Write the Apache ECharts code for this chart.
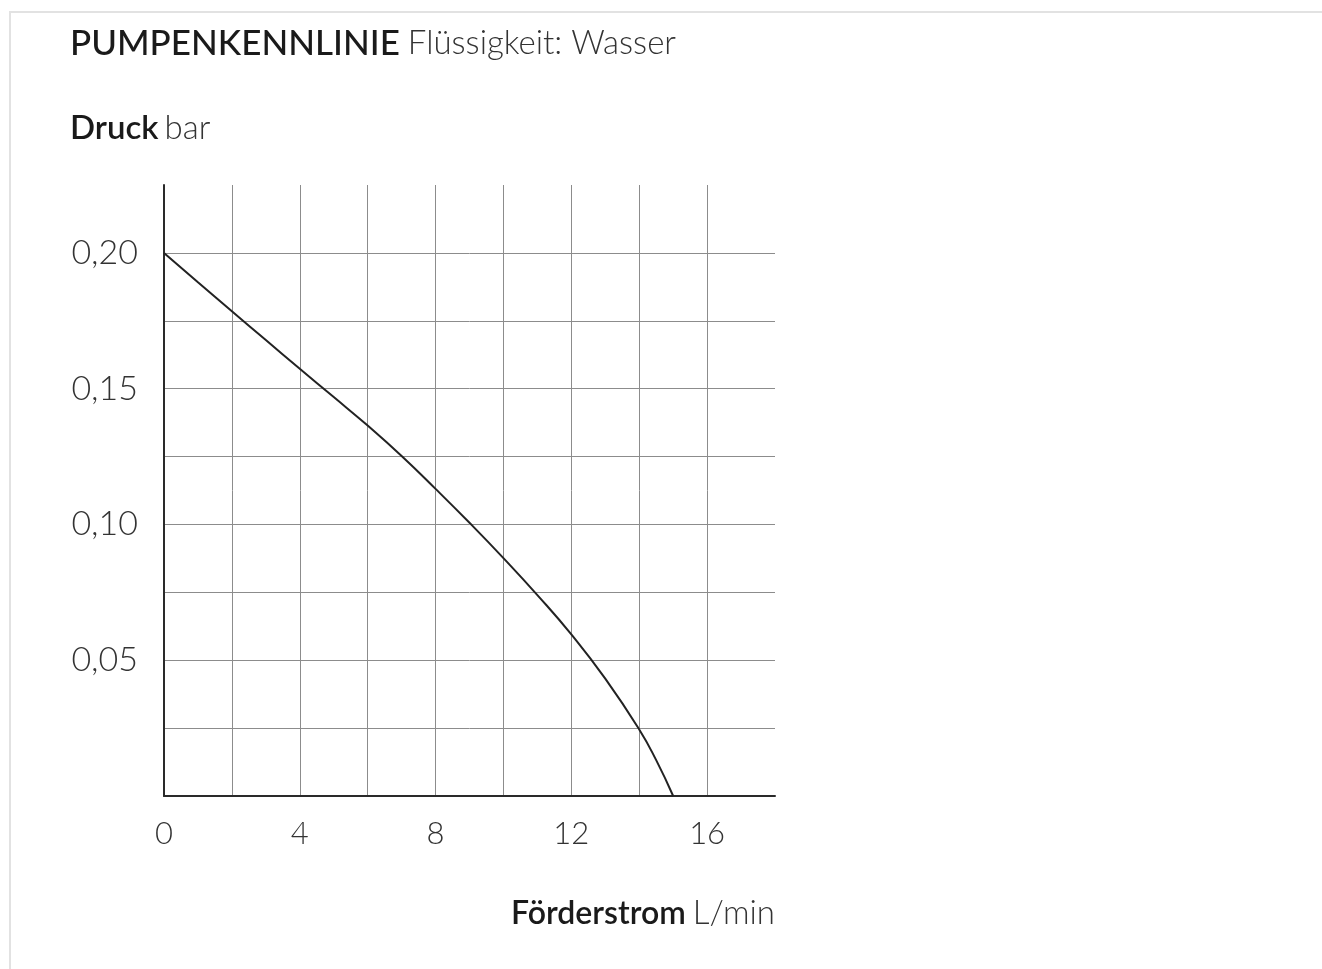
<!DOCTYPE html>
<html>
<head>
<meta charset="utf-8">
<script src="https://cdn.jsdelivr.net/npm/echarts@6/dist/echarts.min.js"></script>
<style>
html,body{margin:0;padding:0;background:#fff;}
#chart{width:1322px;height:969px;}
</style>
</head>
<body>
<div id="chart"></div>
<script>
// Data
const flowValues = [0, 1, 2, 3, 4, 5, 6, 7, 8, 9, 10, 11, 12, 13, 14, 14.5, 15];
const pressureValues = [0.200, 0.1892, 0.1785, 0.1679, 0.1573, 0.1469, 0.1364, 0.1252, 0.1131, 0.1006, 0.0876, 0.0740, 0.0595, 0.0432, 0.0245, 0.0132, 0.000];
const xTickLabels = [0, 4, 8, 12, 16];
const yTickLabels = [0.05, 0.10, 0.15, 0.20];

const titleMain = 'PUMPENKENNLINIE';
const titleSub = 'Flüssigkeit: Wasser';
const yName = 'Druck';
const yUnit = 'bar';
const xName = 'Förderstrom';
const xUnit = 'L/min';

const FONT = 'Lato, "Open Sans", sans-serif';

const chart = echarts.init(document.getElementById('chart'), null, {renderer: 'canvas'});
const seriesData = flowValues.map((x, i) => [x, pressureValues[i]]);

chart.setOption({
  backgroundColor: '#fff',
  animation: false,
  graphic: [
    {type: 'line', shape: {x1: 9, y1: 12, x2: 1322, y2: 12}, style: {stroke: '#e2e2e2', lineWidth: 2}},
    {type: 'line', shape: {x1: 10, y1: 12, x2: 10, y2: 969}, style: {stroke: '#e2e2e2', lineWidth: 2}},
    {
      type: 'text', left: 70, top: 26,
      style: {
        text: '{a|' + titleMain + '}{b|' + titleSub + '}',
        rich: {
          a: {fontFamily: FONT, fontSize: 35, fontWeight: 500, fill: '#1a1a1a'},
          b: {fontFamily: FONT, fontSize: 33, fontWeight: 300, fill: '#333', padding: [0, 0, 0, 8]}
        }
      }
    },
    {
      type: 'text', left: 70, top: 112,
      style: {
        text: '{a|' + yName + '}{b|' + yUnit + '}',
        rich: {
          a: {fontFamily: FONT, fontSize: 33, fontWeight: 600, fill: '#1a1a1a'},
          b: {fontFamily: FONT, fontSize: 33, fontWeight: 300, fill: '#333', padding: [0, 0, 0, 6]}
        }
      }
    },
    {
      type: 'text', right: 547, top: 897,
      style: {
        text: '{a|' + xName + '}{b|' + xUnit + '}',
        align: 'right',
        rich: {
          a: {fontFamily: FONT, fontSize: 32, fontWeight: 600, fill: '#1a1a1a'},
          b: {fontFamily: FONT, fontSize: 33, fontWeight: 300, fill: '#333', padding: [0, 0, 0, 7]}
        }
      }
    }
  ],
  grid: {left: 164, right: 547, top: 185, bottom: 173, containLabel: false},
  xAxis: {
    type: 'value', min: 0, max: 18, interval: 2,
    axisLine: {show: true, onZero: false, lineStyle: {color: '#2a2a2a', width: 2}},
    axisTick: {show: false},
    axisLabel: {
      margin: 22, fontFamily: FONT, fontSize: 31, fontWeight: 300, color: '#333',
      formatter: v => xTickLabels.indexOf(v) >= 0 ? String(v) : ''
    },
    splitLine: {show: true, showMinLine: false, showMaxLine: false, lineStyle: {color: '#8c8c8c', width: 1}}
  },
  yAxis: {
    type: 'value', min: 0, max: 0.225, interval: 0.025,
    axisLine: {show: true, onZero: false, lineStyle: {color: '#2a2a2a', width: 2}},
    axisTick: {show: false},
    axisLabel: {
      margin: 26, fontFamily: FONT, fontSize: 34, fontWeight: 300, color: '#333',
      formatter: v => {
        const hit = yTickLabels.find(t => Math.abs(t - v) < 1e-9);
        return hit !== undefined ? hit.toFixed(2).replace('.', ',') : '';
      }
    },
    splitLine: {show: true, showMinLine: false, showMaxLine: false, lineStyle: {color: '#8c8c8c', width: 1}}
  },
  series: [{
    type: 'line',
    data: seriesData,
    smooth: 0.5,
    showSymbol: false,
    symbol: 'none',
    lineStyle: {color: '#222', width: 2},
    z: 5
  }]
});
</script>
</body>
</html>
